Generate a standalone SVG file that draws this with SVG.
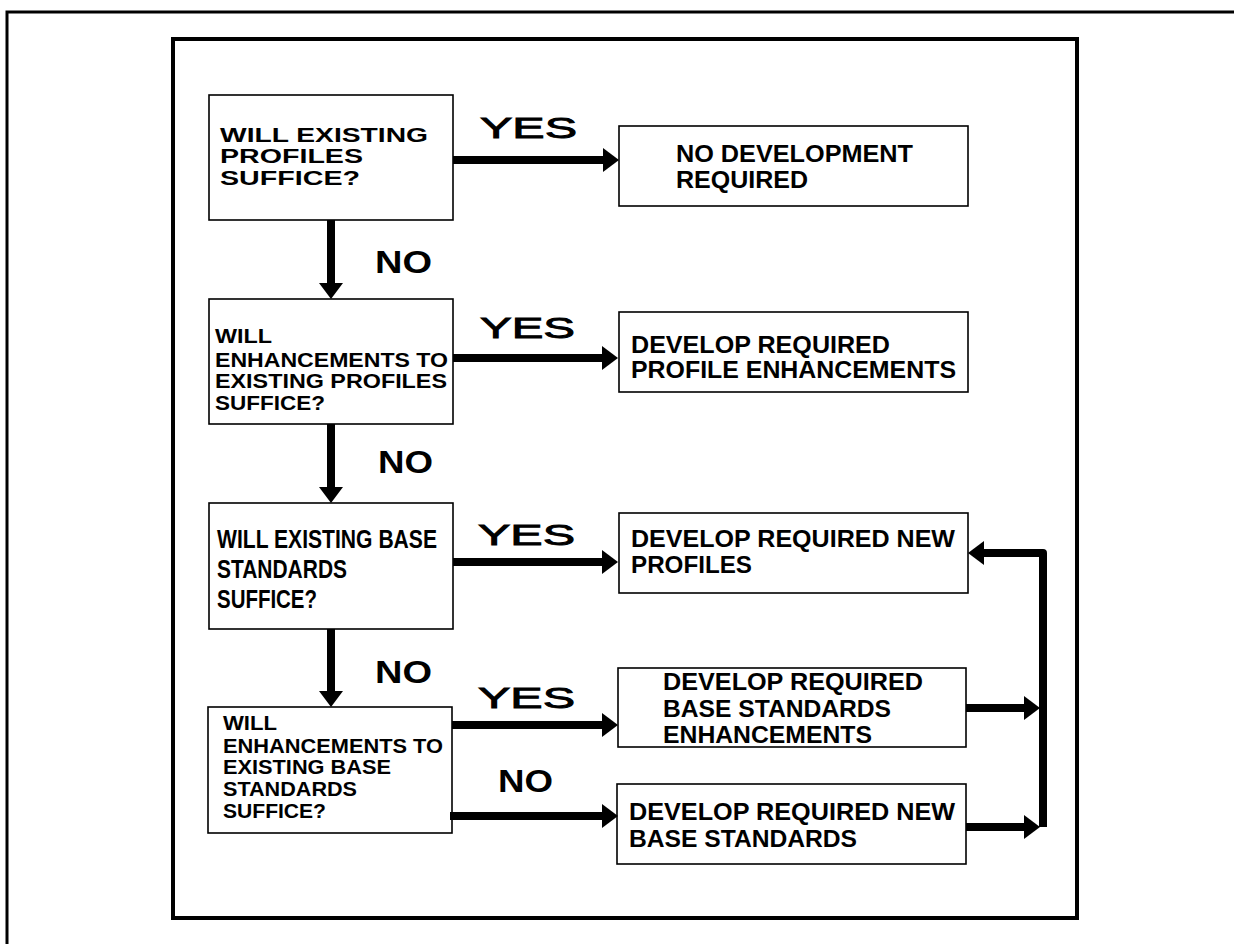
<svg xmlns="http://www.w3.org/2000/svg" width="1234" height="944" viewBox="0 0 1234 944">
<style>
.frame{fill:none;stroke:#000}
.box{fill:#fff;stroke:#000;stroke-width:1.6}
.t{font-family:"Liberation Sans",Arial,Helvetica,sans-serif;font-weight:bold;fill:#000}
.s20{font-size:20px}.s21{font-size:21px}.s24{font-size:24px}.s25{font-size:25px}
.yes{font-family:"Liberation Sans",Arial,Helvetica,sans-serif;font-size:30px;fill:#000;stroke:#000;stroke-width:0.9}
.no{font-family:"Liberation Sans",Arial,Helvetica,sans-serif;font-weight:bold;font-size:31px;fill:#000}
.conn{fill:none;stroke:#000;stroke-width:8;marker-end:url(#ah)}
</style>
<defs>
<marker id="ah" markerUnits="userSpaceOnUse" viewBox="0 0 16 24" markerWidth="16" markerHeight="24" refX="4" refY="12" orient="auto">
<path d="M0,0 L16,12 L0,24 Z" fill="#000"/>
</marker>
</defs>
<rect width="1234" height="944" fill="#fff"/>
<g id="frames">
<polyline class="frame" stroke-width="3" points="7,944 7,12 1234,12"/>
<rect class="frame" stroke-width="4" x="173" y="39" width="904" height="879"/>
</g>
<g id="q1">
<rect class="box" x="209" y="95" width="244" height="125"/>
<text class="t s21" x="220" y="142" textLength="208" lengthAdjust="spacingAndGlyphs">WILL EXISTING</text>
<text class="t s21" x="220" y="163" textLength="143" lengthAdjust="spacingAndGlyphs">PROFILES</text>
<text class="t s21" x="220" y="185" textLength="140" lengthAdjust="spacingAndGlyphs">SUFFICE?</text>
</g>
<g id="noDev">
<rect class="box" x="619" y="126" width="349" height="80"/>
<text class="t s24" x="676" y="162" textLength="237" lengthAdjust="spacingAndGlyphs">NO DEVELOPMENT</text>
<text class="t s24" x="676" y="188" textLength="132" lengthAdjust="spacingAndGlyphs">REQUIRED</text>
</g>
<g id="q2">
<rect class="box" x="209" y="299" width="244" height="125"/>
<text class="t s21" x="215" y="343" textLength="57" lengthAdjust="spacingAndGlyphs">WILL</text>
<text class="t s21" x="215" y="367" textLength="233" lengthAdjust="spacingAndGlyphs">ENHANCEMENTS TO</text>
<text class="t s21" x="215" y="388" textLength="232" lengthAdjust="spacingAndGlyphs">EXISTING PROFILES</text>
<text class="t s21" x="215" y="410" textLength="110" lengthAdjust="spacingAndGlyphs">SUFFICE?</text>
</g>
<g id="devProfEnh">
<rect class="box" x="619" y="312" width="349" height="80"/>
<text class="t s24" x="631" y="353" textLength="259" lengthAdjust="spacingAndGlyphs">DEVELOP REQUIRED</text>
<text class="t s24" x="631" y="378" textLength="325" lengthAdjust="spacingAndGlyphs">PROFILE ENHANCEMENTS</text>
</g>
<g id="q3">
<rect class="box" x="209" y="503" width="244" height="126"/>
<text class="t s25" x="217" y="548" textLength="220" lengthAdjust="spacingAndGlyphs">WILL EXISTING BASE</text>
<text class="t s25" x="217" y="578" textLength="130" lengthAdjust="spacingAndGlyphs">STANDARDS</text>
<text class="t s25" x="217" y="608" textLength="100" lengthAdjust="spacingAndGlyphs">SUFFICE?</text>
</g>
<g id="devNewProf">
<rect class="box" x="619" y="513" width="349" height="80"/>
<text class="t s24" x="631" y="547" textLength="324" lengthAdjust="spacingAndGlyphs">DEVELOP REQUIRED NEW</text>
<text class="t s24" x="631" y="573" textLength="121" lengthAdjust="spacingAndGlyphs">PROFILES</text>
</g>
<g id="q4">
<rect class="box" x="208" y="707" width="244" height="126"/>
<text class="t s20" x="223" y="730" textLength="54" lengthAdjust="spacingAndGlyphs">WILL</text>
<text class="t s20" x="223" y="753" textLength="220" lengthAdjust="spacingAndGlyphs">ENHANCEMENTS TO</text>
<text class="t s20" x="223" y="774" textLength="168" lengthAdjust="spacingAndGlyphs">EXISTING BASE</text>
<text class="t s20" x="223" y="796" textLength="134" lengthAdjust="spacingAndGlyphs">STANDARDS</text>
<text class="t s20" x="223" y="818" textLength="103" lengthAdjust="spacingAndGlyphs">SUFFICE?</text>
</g>
<g id="devBaseEnh">
<rect class="box" x="618" y="668" width="348" height="79"/>
<text class="t s24" x="663" y="690" textLength="260" lengthAdjust="spacingAndGlyphs">DEVELOP REQUIRED</text>
<text class="t s24" x="663" y="717" textLength="228" lengthAdjust="spacingAndGlyphs">BASE STANDARDS</text>
<text class="t s24" x="663" y="743" textLength="209" lengthAdjust="spacingAndGlyphs">ENHANCEMENTS</text>
</g>
<g id="devNewBase">
<rect class="box" x="617" y="784" width="349" height="80"/>
<text class="t s24" x="629" y="820" textLength="326" lengthAdjust="spacingAndGlyphs">DEVELOP REQUIRED NEW</text>
<text class="t s24" x="629" y="847" textLength="228" lengthAdjust="spacingAndGlyphs">BASE STANDARDS</text>
</g>
<g id="connectors">
<path class="conn" d="M453,160 H607"/>
<path class="conn" d="M331,220 V287" stroke-width="9"/>
<path class="conn" d="M453,358 H606"/>
<path class="conn" d="M331,424 V491" stroke-width="9"/>
<path class="conn" d="M453,562 H606"/>
<path class="conn" d="M331,629 V695" stroke-width="9"/>
<path class="conn" d="M452,725 H606"/>
<path class="conn" d="M450,816 H606"/>
<path class="conn" d="M966,708 H1028"/>
<path class="conn" d="M966,827 H1028"/>
<path class="conn" d="M1043,827 V553 H980" stroke-linejoin="round"/>
</g>
<g id="labels">
<text class="yes" x="480" y="138" textLength="97" lengthAdjust="spacingAndGlyphs">YES</text>
<text class="no" x="375" y="273" textLength="57" lengthAdjust="spacingAndGlyphs">NO</text>
<text class="yes" x="480" y="338" textLength="95" lengthAdjust="spacingAndGlyphs">YES</text>
<text class="no" x="378" y="473" textLength="55" lengthAdjust="spacingAndGlyphs">NO</text>
<text class="yes" x="478" y="545" textLength="97" lengthAdjust="spacingAndGlyphs">YES</text>
<text class="no" x="375" y="683" textLength="57" lengthAdjust="spacingAndGlyphs">NO</text>
<text class="yes" x="478" y="708" textLength="97" lengthAdjust="spacingAndGlyphs">YES</text>
<text class="no" x="498" y="792" textLength="55" lengthAdjust="spacingAndGlyphs">NO</text>
</g>
</svg>
